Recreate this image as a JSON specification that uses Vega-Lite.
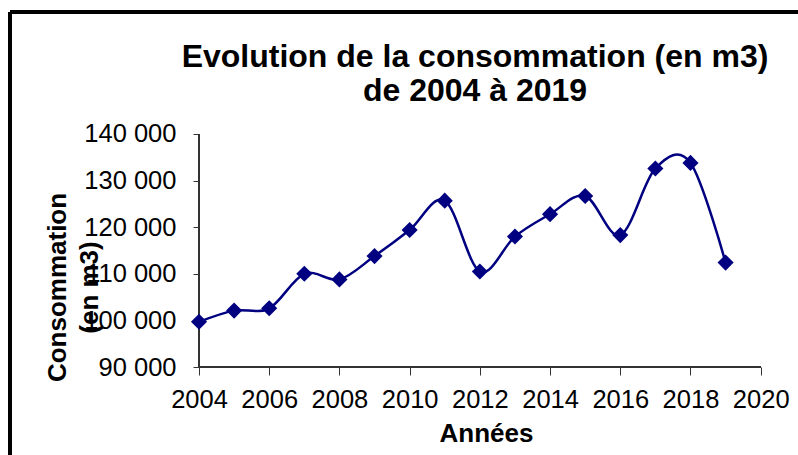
{
  "$schema": "https://vega.github.io/schema/vega-lite/v6.json",
  "autosize": {"type": "none"},
  "padding": {"left": 10, "top": 12, "right": 0, "bottom": 0},
  "width": 788,
  "height": 443,
  "background": "white",
  "config": {"view": {"stroke": null}, "font": "Liberation Sans"},
  "title": {
    "text": ["Evolution de la consommation (en m3)", "de 2004 à 2019"],
    "font": "Liberation Sans",
    "fontSize": 32,
    "fontWeight": "bold",
    "color": "black",
    "anchor": "middle",
    "frame": "group",
    "offset": -97,
    "dx": 71,
    "lineHeight": 34
  },
  "data": {
    "values": [
      {"annee": 2004, "conso": 99700},
      {"annee": 2005, "conso": 102100},
      {"annee": 2006, "conso": 102600},
      {"annee": 2007, "conso": 110000},
      {"annee": 2008, "conso": 108800},
      {"annee": 2009, "conso": 113800},
      {"annee": 2010, "conso": 119400},
      {"annee": 2011, "conso": 125700},
      {"annee": 2012, "conso": 110500},
      {"annee": 2013, "conso": 118000},
      {"annee": 2014, "conso": 122800},
      {"annee": 2015, "conso": 126700},
      {"annee": 2016, "conso": 118300},
      {"annee": 2017, "conso": 132600},
      {"annee": 2018, "conso": 133800},
      {"annee": 2019, "conso": 112400}
    ]
  },
  "layer": [
    {
      "mark": {"type": "line", "interpolate": "cardinal", "color": "#000080", "strokeWidth": 2.5},
      "encoding": {
        "x": {
          "field": "annee", "type": "quantitative",
          "scale": {"domain": [1998.6163, 2021.0626], "nice": false, "zero": false},
          "axis": {
            "values": [2004, 2006, 2008, 2010, 2012, 2014, 2016, 2018, 2020],
            "format": "d",
            "domain": false,
            "grid": false,
            "offset": -88,
            "tickSize": 8,
            "tickColor": "#333333",
            "labelFontSize": 25.5,
            "labelColor": "black",
            "labelPadding": 12,
            "labelFlush": false,
            "labelOverlap": false,
            "title": "Années",
            "titleFontSize": 26,
            "titleFontWeight": "bold",
            "titleColor": "black",
            "titleX": 476,
            "titleY": 74,
            "titleAlign": "center",
            "titleBaseline": "alphabetic"
          }
        },
        "y": {
          "field": "conso", "type": "quantitative",
          "scale": {"domain": [71116, 166180], "nice": false, "zero": false},
          "axis": {
            "values": [90000, 100000, 110000, 120000, 130000, 140000],
            "labelExpr": "replace(format(datum.value, ','), ',', ' ')",
            "domain": false,
            "grid": false,
            "offset": -189,
            "tickSize": 6,
            "tickColor": "#333333",
            "labelFontSize": 25.5,
            "labelColor": "black",
            "labelPadding": 17,
            "labelOverlap": false,
            "title": ["Consommation", "(en m3)"],
            "titleFontSize": 26,
            "titleFontWeight": "bold",
            "titleColor": "black",
            "titleAngle": -90,
            "titleX": -155,
            "titleY": 275,
            "titleAlign": "center",
            "titleBaseline": "top",
            "titleLineHeight": 32
          }
        }
      }
    },
    {
      "mark": {"type": "rule", "color": "black", "strokeWidth": 3},
      "encoding": {
        "x": {"datum": 1998.6163, "type": "quantitative"}
      }
    },
    {
      "mark": {"type": "rule", "color": "black", "strokeWidth": 3},
      "encoding": {
        "y": {"datum": 166180, "type": "quantitative"}
      }
    },
    {
      "mark": {"type": "rule", "color": "#333333", "strokeWidth": 1.2},
      "encoding": {
        "x": {"datum": 2004, "type": "quantitative"},
        "x2": {"datum": 2020},
        "y": {"datum": 90000, "type": "quantitative"}
      }
    },
    {
      "mark": {"type": "rule", "color": "#333333", "strokeWidth": 1.2},
      "encoding": {
        "x": {"datum": 2004, "type": "quantitative"},
        "y": {"datum": 90000, "type": "quantitative"},
        "y2": {"datum": 140000}
      }
    },
    {
      "mark": {"type": "point", "shape": "diamond", "filled": true, "color": "#000080", "size": 260, "opacity": 1},
      "encoding": {
        "x": {"field": "annee", "type": "quantitative"},
        "y": {"field": "conso", "type": "quantitative"}
      }
    }
  ]
}
